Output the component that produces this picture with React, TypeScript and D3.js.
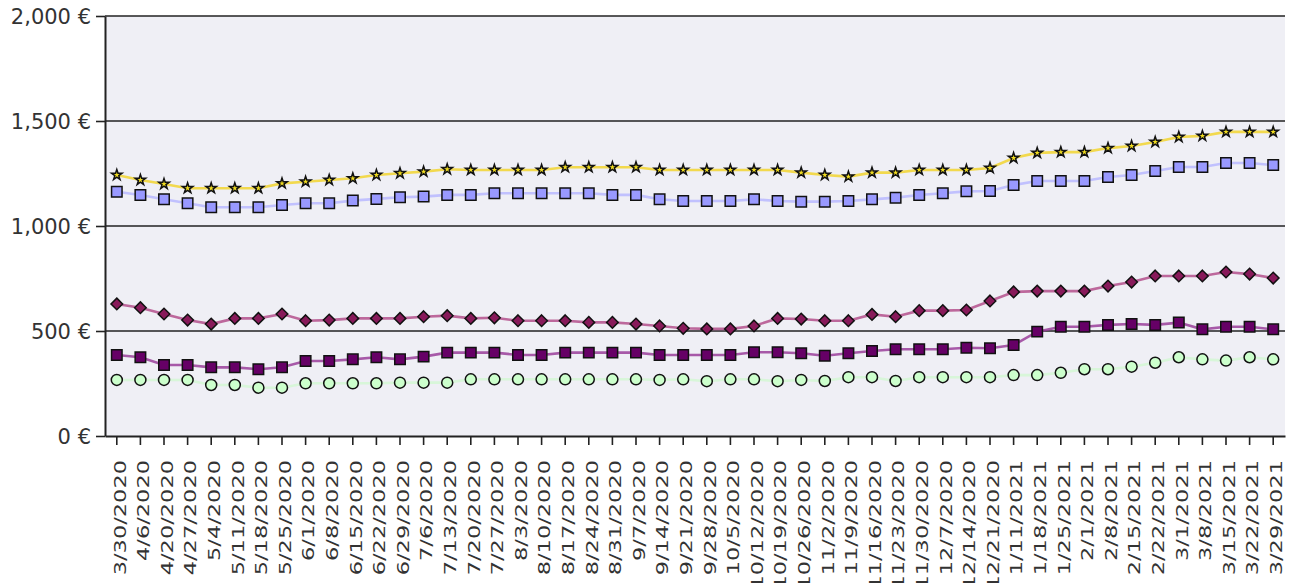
import React, { useEffect, useRef } from "react";
import * as d3 from "d3";

const dates = [
  "3/30/2020", "4/6/2020", "4/20/2020", "4/27/2020", "5/4/2020", "5/11/2020", "5/18/2020", "5/25/2020",
  "6/1/2020", "6/8/2020", "6/15/2020", "6/22/2020", "6/29/2020", "7/6/2020", "7/13/2020", "7/20/2020",
  "7/27/2020", "8/3/2020", "8/10/2020", "8/17/2020", "8/24/2020", "8/31/2020", "9/7/2020", "9/14/2020",
  "9/21/2020", "9/28/2020", "10/5/2020", "10/12/2020", "10/19/2020", "10/26/2020", "11/2/2020", "11/9/2020",
  "11/16/2020", "11/23/2020", "11/30/2020", "12/7/2020", "12/14/2020", "12/21/2020", "1/11/2021", "1/18/2021",
  "1/25/2021", "2/1/2021", "2/8/2021", "2/15/2021", "2/22/2021", "3/1/2021", "3/8/2021", "3/15/2021",
  "3/22/2021", "3/29/2021",
];

const starSeries = [
  1243, 1219, 1200, 1180, 1180, 1180, 1180, 1203, 1211, 1219, 1227, 1243, 1251,
  1259, 1270, 1267, 1267, 1267, 1267, 1280, 1280, 1280, 1280, 1267, 1267, 1267, 1267, 1267, 1267,
  1254, 1243, 1235, 1254, 1254, 1267, 1267, 1267, 1276,
  1324, 1348, 1352, 1352, 1371, 1381, 1400, 1424, 1429, 1448, 1448, 1448,
];

const blueSeries = [
  1163, 1148, 1127, 1108, 1089, 1089, 1089, 1100, 1108, 1108, 1121, 1129, 1137,
  1140, 1148, 1148, 1156, 1156, 1156, 1156, 1156, 1148, 1148, 1127, 1119, 1119, 1119, 1127, 1119,
  1116, 1116, 1119, 1127, 1135, 1148, 1156, 1165, 1167,
  1195, 1214, 1214, 1214, 1233, 1243, 1262, 1281, 1281, 1300, 1300, 1290,
];

const diamondSeries = [
  629, 611, 581, 552, 533, 560, 560, 581, 549, 552, 560, 560, 560,
  568, 573, 560, 563, 549, 549, 549, 541, 541, 533, 524, 513, 510, 510, 524, 560,
  557, 549, 549, 579, 568, 597, 597, 600, 643,
  686, 690, 690, 690, 714, 733, 762, 762, 762, 781, 771, 752,
];

const purpleSeries = [
  386, 375, 338, 338, 327, 327, 318, 327, 357, 357, 365, 375, 365,
  378, 397, 397, 397, 386, 386, 397, 397, 397, 397, 386, 386, 386, 386, 399, 399,
  394, 382, 394, 405, 413, 413, 413, 420, 418,
  433, 497, 520, 520, 529, 533, 529, 540, 508, 520, 520, 508,
];

const greenSeries = [
  267, 267, 267, 267, 243, 243, 230, 230, 251, 251, 251, 251, 254,
  254, 254, 270, 270, 270, 270, 270, 270, 270, 270, 267, 270, 261, 270, 270, 261,
  267, 262, 280, 280, 262, 280, 280, 280, 280,
  290, 290, 301, 318, 318, 330, 349, 375, 365, 359, 375, 365,
];

const yTicks = [0, 500, 1000, 1500, 2000];

const diamondPath = (r) => `M0,${-r}L${r},0L0,${r}L${-r},0Z`;

export default function App() {
  const ref = useRef(null);
  const width = 1293;
  const height = 583;

  useEffect(() => {
    const margin = { top: 16, right: 8, bottom: 147, left: 105 };
    const svg = d3.select(ref.current).attr("width", width).attr("height", height);
    svg.selectAll("*").remove();

    const x = d3
      .scaleBand()
      .domain(dates)
      .range([margin.left, width - margin.right]);
    const cx = (d) => x(d) + x.bandwidth() / 2;

    const y = d3
      .scaleLinear()
      .domain([0, 2000])
      .range([height - margin.bottom, margin.top]);

    // plot background
    svg
      .append("rect")
      .attr("x", margin.left)
      .attr("y", margin.top)
      .attr("width", width - margin.right - margin.left)
      .attr("height", y(0) - margin.top)
      .attr("fill", "#efeff5");

    // grid
    svg
      .append("g")
      .selectAll("line")
      .data(yTicks.filter((t) => t > 0))
      .join("line")
      .attr("x1", margin.left)
      .attr("x2", width - margin.right)
      .attr("y1", (d) => y(d))
      .attr("y2", (d) => y(d))
      .attr("stroke", "#222")
      .attr("stroke-width", 1.6);

    // y axis
    const yAxis = svg
      .append("g")
      .attr("transform", `translate(${margin.left},0)`)
      .call(
        d3
          .axisLeft(y)
          .tickValues(yTicks)
          .tickSize(9)
          .tickSizeOuter(0)
          .tickPadding(5)
          .tickFormat((d) => `${d3.format(",")(d)} €`)
      );
    yAxis.select(".domain").attr("stroke", "#222").attr("stroke-width", 2);
    yAxis.selectAll(".tick line").attr("stroke", "#222").attr("stroke-width", 1.6);
    yAxis
      .selectAll(".tick text")
      .attr("font-family", "DejaVu Sans")
      .attr("font-size", 21)
      .attr("fill", "#333")
      .attr("dy", "0.36em");

    // x axis
    const xAxis = svg
      .append("g")
      .attr("transform", `translate(0,${y(0)})`)
      .call(d3.axisBottom(x).tickSize(9).tickSizeOuter(0).tickFormat(""));
    xAxis.select(".domain").attr("stroke", "#222").attr("stroke-width", 2);
    xAxis.selectAll(".tick line").attr("stroke", "#222").attr("stroke-width", 1.6);

    svg
      .append("g")
      .selectAll("text")
      .data(dates)
      .join("text")
      .attr("transform", (d) => `translate(${cx(d)},${y(0) + 24}) rotate(-90) scale(1.5,1)`)
      .attr("dy", 8.8)
      .attr("text-anchor", "end")
      .attr("font-family", "DejaVu Sans")
      .attr("font-size", 15)
      .attr("fill", "#333")
      .text((d) => d);

    const series = [
      { values: greenSeries, line: "#d4f7d4", fill: "#ccffcc", shape: "circle" },
      { values: purpleSeries, line: "#9a3e9a", fill: "#660066", shape: "square" },
      { values: diamondSeries, line: "#b4508c", fill: "#881a5a", shape: "diamond" },
      { values: blueSeries, line: "#b8b8ff", fill: "#9999ff", shape: "square" },
      { values: starSeries, line: "#f2d530", fill: "#f0dc20", shape: "star" },
    ];

    const line = d3
      .line()
      .x((d, i) => cx(dates[i]))
      .y((d) => y(d));

    series.forEach((s) => {
      svg
        .append("path")
        .datum(s.values)
        .attr("fill", "none")
        .attr("stroke", s.line)
        .attr("stroke-width", 2.6)
        .attr("stroke-opacity", 0.85)
        .attr("d", line);
    });

    series.forEach((s) => {
      const g = svg.append("g");
      const pts = g
        .selectAll("path")
        .data(s.values)
        .join("path")
        .attr("transform", (d, i) => `translate(${cx(dates[i])},${y(d)})`)
        .attr("fill", s.fill)
        .attr("stroke", "#111")
        .attr("stroke-width", 1.5);
      if (s.shape === "circle") pts.attr("d", d3.symbol().type(d3.symbolCircle).size(Math.PI * 5.5 * 5.5)());
      if (s.shape === "square") pts.attr("d", d3.symbol().type(d3.symbolSquare).size(110)());
      if (s.shape === "diamond") pts.attr("d", diamondPath(5.8));
      if (s.shape === "star") pts.attr("d", d3.symbol().type(d3.symbolStar).size(34)());
    });
  }, []);

  return (
    <svg
      ref={ref}
      style={{ position: "absolute", left: 0, top: 0, background: "#fff" }}
    />
  );
}
